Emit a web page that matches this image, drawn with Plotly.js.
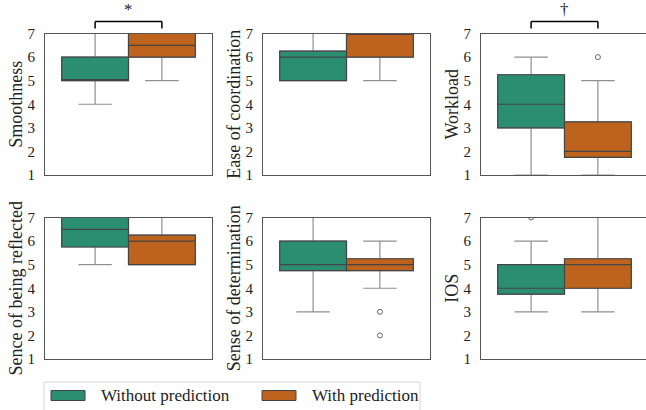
<!DOCTYPE html>
<html>
<head>
<meta charset="utf-8">
<script src="https://cdn.plot.ly/plotly-3.0.1.min.js"></script>
<style>
html,body{margin:0;padding:0;overflow:hidden;background:#fff;}
#chart{width:650px;height:410px;}
</style>
</head>
<body>
<div id="chart"></div>
<script>
// ---- data ----
const groups = ['Without prediction', 'With prediction'];
const measures = ['Smoothness', 'Ease of coordination', 'Workload',
                  'Sence of being reflected', 'Sense of determination', 'IOS'];

const q1Without  = [5, 5, 3, 5.75, 4.75, 3.75];
const medWithout = [5, 6, 4, 6.5, 5, 4];
const q3Without  = [6, 6.25, 5.25, 7, 6, 5];
const loWithout  = [4, 5, 1, 5, 3, 3];
const hiWithout  = [7, 7, 6, 7, 7, 6];
const outWithout = [[], [], [], [], [], [7]];

const q1With  = [6, 6, 1.75, 5, 4.75, 4];
const medWith = [6.5, 7, 2, 6, 5, 5];
const q3With  = [7, 7, 3.25, 6.25, 5.25, 5.25];
const loWith  = [5, 5, 1, 5, 4, 3];
const hiWith  = [7, 7, 5, 7, 6, 7];
const outWith = [[], [], [6], [], [3, 2], []];

const sigLabels = ['*', '', '\u2020', '', '', ''];
const yTicks = [1, 2, 3, 4, 5, 6, 7];

// ---- style ----
const colors = ['#2b8e70', '#be631d'];
const boxLine = '#444444';
const whiskerLine = '#8f8f8f';
const fontFam = '"Liberation Serif", "Times New Roman", "DejaVu Serif", serif';
const W = 650, H = 410;
const px = v => v / W;
const py = v => 1 - v / H;

const colDom = [[px(45), px(212)], [px(263), px(430)], [px(481), px(648)]];
const rowDom = [[py(175), py(33.5)], [py(359), py(217.5)]];

const stats = [
  {q1: q1Without, med: medWithout, q3: q3Without, lo: loWithout, hi: hiWithout, out: outWithout},
  {q1: q1With, med: medWith, q3: q3With, lo: loWith, hi: hiWith, out: outWith}
];

const traces = [];
const layout = {
  width: W, height: H,
  margin: {l: 0, r: 0, t: 0, b: 0},
  paper_bgcolor: '#fff', plot_bgcolor: '#fff',
  showlegend: false,
  boxmode: 'overlay', boxgap: 0, boxgroupgap: 0,
  font: {family: fontFam, color: '#222'},
  shapes: [], annotations: []
};

measures.forEach((m, i) => {
  const r = Math.floor(i / 3), c = i % 3;
  const n = i === 0 ? '' : String(i + 1);
  const xa = 'x' + n, ya = 'y' + n;
  groups.forEach((g, k) => {
    const s = stats[k];
    // whiskers (lighter grey)
    traces.push({
      type: 'box', xaxis: xa, yaxis: ya, name: g,
      x: [g], q1: [s.q1[i]], median: [s.med[i]], q3: [s.q3[i]],
      lowerfence: [s.lo[i]], upperfence: [s.hi[i]],
      boxpoints: false, whiskerwidth: 0.5,
      fillcolor: colors[k], line: {color: whiskerLine, width: 1.2},
      hoverinfo: 'skip'
    });
    // box body with darker outline and median
    traces.push({
      type: 'box', xaxis: xa, yaxis: ya, name: g,
      x: [g], q1: [s.q1[i]], median: [s.med[i]], q3: [s.q3[i]],
      lowerfence: [s.q1[i]], upperfence: [s.q3[i]],
      boxpoints: false, whiskerwidth: 0,
      fillcolor: colors[k], line: {color: boxLine, width: 1.2},
      hoverinfo: 'skip'
    });
    if (s.out[i].length) {
      traces.push({
        type: 'scatter', mode: 'markers', xaxis: xa, yaxis: ya,
        x: s.out[i].map(() => g), y: s.out[i],
        marker: {symbol: 'circle-open', size: 5, color: '#666', line: {width: 1}},
        hoverinfo: 'skip'
      });
    }
  });
  layout['xaxis' + n] = {
    domain: colDom[c], anchor: ya, type: 'category',
    categoryarray: groups, range: [-0.75, 1.75],
    showticklabels: false, ticks: '', showgrid: false, zeroline: false,
    showline: true, mirror: true, linecolor: '#555', linewidth: 1
  };
  layout['yaxis' + n] = {
    domain: rowDom[r], anchor: xa, range: [1, 7],
    tickvals: yTicks, ticks: '', ticklabelstandoff: 6,
    tickfont: {family: fontFam, size: 15, color: '#222'},
    showgrid: false, zeroline: false,
    showline: true, mirror: true, linecolor: '#555', linewidth: 1,
    title: {text: m, standoff: 0, font: {family: fontFam, size: 18, color: '#222'}}
  };
  if (sigLabels[i]) {
    const yTop = 1.085, yEnd = 1.035;
    [[0, yEnd, 0, yTop], [0, yTop, 1, yTop], [1, yTop, 1, yEnd]].forEach(p => {
      layout.shapes.push({
        type: 'line', xref: xa, yref: ya + ' domain',
        x0: p[0], y0: p[1], x1: p[2], y1: p[3],
        line: {color: '#000', width: 1.5}
      });
    });
    layout.annotations.push({
      xref: xa, yref: ya + ' domain', x: 0.5, y: 1.09,
      yanchor: 'bottom', showarrow: false, text: sigLabels[i],
      font: {family: fontFam, size: 17, color: '#222'}
    });
  }
});

// ---- legend (drawn manually to match patch shape) ----
layout.shapes.push({
  type: 'rect', xref: 'paper', yref: 'paper',
  x0: px(44), x1: px(420), y0: py(414), y1: py(382),
  line: {color: '#d6d6d6', width: 1}, fillcolor: '#fff'
});
const legX = [51, 262];
groups.forEach((g, k) => {
  layout.shapes.push({
    type: 'rect', xref: 'paper', yref: 'paper',
    x0: px(legX[k]), x1: px(legX[k] + 34), y0: py(400.5), y1: py(390.5),
    line: {color: boxLine, width: 1}, fillcolor: colors[k]
  });
  layout.annotations.push({
    xref: 'paper', yref: 'paper', x: px(legX[k] + 48), y: py(395.5),
    xanchor: 'left', yanchor: 'middle', showarrow: false, text: g,
    font: {family: fontFam, size: 17, color: '#222'}
  });
});

Plotly.newPlot('chart', traces, layout, {staticPlot: true});
</script>
</body>
</html>
